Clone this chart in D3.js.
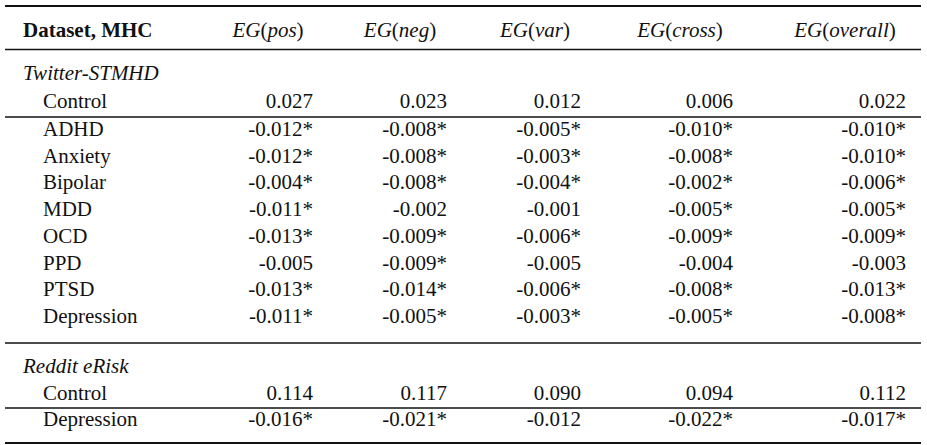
<!DOCTYPE html>
<html><head><meta charset="utf-8">
<script src="https://cdn.jsdelivr.net/npm/d3@7"></script>
<style>body{margin:0;background:#fff}</style>
</head><body><svg id="c" width="927" height="445" font-family="'Liberation Serif', 'Times New Roman', Times, 'DejaVu Serif', serif" font-size="21"></svg>
<script>
const columns = ["pos","neg","var","cross","overall"];
const twitterLabels = ["Control","ADHD","Anxiety","Bipolar","MDD","OCD","PPD","PTSD","Depression"];
const twitterValues = [
 ["0.027","0.023","0.012","0.006","0.022"],
 ["-0.012*","-0.008*","-0.005*","-0.010*","-0.010*"],
 ["-0.012*","-0.008*","-0.003*","-0.008*","-0.010*"],
 ["-0.004*","-0.008*","-0.004*","-0.002*","-0.006*"],
 ["-0.011*","-0.002","-0.001","-0.005*","-0.005*"],
 ["-0.013*","-0.009*","-0.006*","-0.009*","-0.009*"],
 ["-0.005","-0.009*","-0.005","-0.004","-0.003"],
 ["-0.013*","-0.014*","-0.006*","-0.008*","-0.013*"],
 ["-0.011*","-0.005*","-0.003*","-0.005*","-0.008*"]];
const redditLabels = ["Control","Depression"];
const redditValues = [
 ["0.114","0.117","0.090","0.094","0.112"],
 ["-0.016*","-0.021*","-0.012","-0.022*","-0.017*"]];

const svg = d3.select("#c");
const xRight = d3.scaleOrdinal().domain(columns).range([313,447,581,733,906]);
const xHead = d3.scaleOrdinal().domain(columns).range([268,400,535,680,845]);
const rowY = d3.scaleLinear().domain([0,1]).range([0,26.7]);

function rule(y,w){svg.append("line").attr("x1",5).attr("x2",921).attr("y1",y).attr("y2",y).attr("stroke","#111").attr("stroke-width",w);}
rule(6,2.2); rule(49.5,1.3); rule(117,1.3); rule(343,1.3); rule(408,1.3); rule(443,2.2);

function txt(x,y){return svg.append("text").attr("x",x).attr("y",y).attr("fill","#111");}
txt(23,37).attr("font-weight","bold").attr("font-family","'Liberation Serif', 'Times New Roman', serif").text("Dataset, MHC");
columns.forEach(c=>{
  const t=txt(xHead(c),37).attr("text-anchor","middle");
  t.append("tspan").attr("font-style","italic").text("EG");
  t.append("tspan").text("(");
  t.append("tspan").attr("font-style","italic").text(c);
  t.append("tspan").text(")");
});

function block(title, titleY, labels, values, ys){
  txt(23,titleY).attr("font-style","italic").text(title);
  labels.forEach((l,i)=>{
    txt(43,ys[i]).text(l);
    values[i].forEach((v,j)=>txt(xRight(columns[j]),ys[i]).attr("text-anchor","end").text(v));
  });
}
const twY = twitterLabels.map((_,i)=> i===0 ? 108 : 136 + rowY(i-1));
block("Twitter-STMHD", 80, twitterLabels, twitterValues, twY);
block("Reddit eRisk", 373, redditLabels, redditValues, [400, 426]);
</script></body></html>
